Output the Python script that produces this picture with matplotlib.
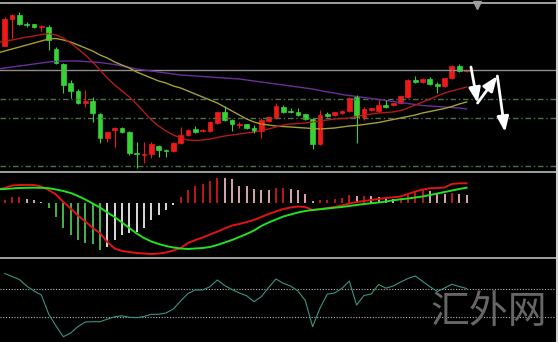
import numpy as np
import matplotlib
matplotlib.use("Agg")
import matplotlib.pyplot as plt
from matplotlib.lines import Line2D

# ── Colours ─────────────────────────────────────────────────────────────────
BG        = "#000000"
BULL      = "#ee1a1a"
BEAR      = "#36d236"
MA_FAST   = "#b31a1a"
MA_MID    = "#a5a032"
MA_SLOW   = "#6a2f9a"
LEVEL     = "#8c8c8c"
FIBO      = "#4f6f4f"
FRAME     = "#a0a0a0"
MACD_LINE = "#e01414"
SIG_LINE  = "#22e022"
H_UP      = "#cc1a1a"   # positive, rising
H_UP_FADE = "#e8b4bc"   # positive, falling
H_DN      = "#4cc44c"   # negative, falling
H_DN_FADE = "#ececec"   # negative, rising
OSC       = "#3a9484"

# ── Data (price axis runs downward, as on the terminal) ─────────────────────
open_ = [45.7, 18.5, 15, 24, 24.3, 27.3, 26.7, 49, 64, 83.3,
         90.7, 103.3, 100.7, 114, 137.7, 130, 128.3, 131.7, 152.7, 154.5,
         154, 145.7, 149.5, 150.7, 143.3, 135, 129.3, 131.3, 131.3, 122.7,
         111.7, 120, 124.5, 124.3, 128, 131, 120.7, 118.3, 106.7, 110.7,
         111.7, 114.3, 119, 144, 114, 115, 113.3, 111, 96.7, 117,
         110, 110.7, 105, 105.3, 103.3, 96.7, 80, 82, 78.7, 84,
         86, 78.3, 66, 71.3]
high = [17, 14, 11.7, 22, 24, 25, 25, 47, 63, 80,
        89, 90, 97.3, 113, 131.7, 127, 127, 131, 141.7, 141.7,
        141.7, 145, 148.7, 142, 126.7, 128.5, 126, 129, 121, 111,
        106, 119, 121.7, 123.5, 125, 118.3, 116.5, 103, 105, 108.3,
        108.3, 113.5, 118, 110, 111.7, 111.5, 110, 97, 95, 106.7,
        107.5, 100, 100, 102.5, 95, 79, 76, 78, 76.7, 81.7,
        77.5, 65.3, 64, 69.5]
low = [46, 38, 25, 27, 28, 30.5, 50, 64, 93, 98,
       104, 107, 121.7, 142.7, 141.7, 146.7, 132.5, 154.5, 168, 163.3,
       158.3, 156.7, 156.7, 152, 144, 136, 133.3, 132, 132, 123.5,
       121, 130.7, 128.3, 129, 132.7, 138.3, 121.5, 119, 112.5, 113.3,
       116, 119.8, 149.3, 145, 116.7, 116, 114, 111.7, 142.7, 120,
       111, 111.5, 108.3, 106, 104, 97.5, 83, 83, 85, 93.3,
       86.7, 79, 71.5, 72]
close = [19, 15, 24.3, 25, 27.3, 26, 40, 63.3, 85, 90.7,
         103.3, 100.7, 113.3, 137.7, 132.3, 128.3, 131.7, 153.3, 154.3, 153.5,
         144, 150, 150.5, 143.3, 135, 129.5, 132, 130, 122, 111.7,
         120, 124, 123.7, 128.3, 130.7, 120, 117.3, 106, 111.7, 112.3,
         115, 119, 144, 115, 115.7, 112.3, 110.7, 97.7, 116.7, 109.3,
         108.3, 105, 106.7, 103.3, 96, 80, 82.3, 78.7, 84.3, 85.7,
         78.3, 66, 70.7, 70]

# moving averages start one bar before the first visible candle
ma_fast = [42.5, 41, 40, 38.5, 37, 36, 34.5, 33.5, 35, 38,
           43, 49, 55, 62, 70, 78, 85, 91, 97, 104,
           112, 120, 126, 131, 135, 138, 140, 140.5, 140, 139,
           137.5, 136, 135, 134, 133, 132, 130.5, 129, 127, 125,
           124, 123.5, 123, 122, 121, 120, 119, 118.5, 118, 116.5,
           115, 114, 113, 112.5, 112, 110.5, 108, 105, 102, 99,
           96, 93, 91, 89, 87]
ma_mid = [53, 51, 49, 47, 45, 43, 41, 39, 38.5, 40,
          42, 45, 48, 51, 55, 58, 62, 65, 68, 72,
          75, 78, 81, 83, 86, 88, 91, 94, 97, 100,
          103, 107, 111, 115, 119, 122, 124, 125, 126, 126.5,
          127, 127.5, 128, 128.5, 129, 128.5, 128, 127, 126, 125.5,
          124.5, 123.5, 122.5, 121, 119.5, 118, 116.5, 115, 113, 111.5,
          110, 108.5, 106.5, 104, 102]
ma_slow = [69, 68, 67, 66, 65, 64, 63, 62, 61.5, 61,
           61, 61, 61.5, 62, 62.5, 63.5, 64.5, 66, 67.5, 69,
           70, 71, 72, 73, 74, 75, 75.5, 76, 76.5, 77,
           77.5, 78, 78.5, 79, 80, 81, 82, 83, 84, 85,
           86, 87, 88, 89, 90.5, 92, 93, 94.5, 95.5, 96.5,
           97.5, 98.5, 99.5, 100.5, 101.5, 102.5, 103.5, 104.5, 105.5, 106,
           106.5, 107, 107.5, 108, 109]

h_line = 70
fibo_levels = [99.3, 117.7, 166]

# trade path drawn as arrows: (bar, price) waypoints
path_bar = [63.6, 64.5, 67.2, 68.25]
path_price = [67, 103, 76, 132]

# MACD panel
MACD_ZERO = 203
macd_hist = [3, 6, 6.3, 4.3, 2.7, 1.3, -5.3, -13.7, -24.7, -32,
             -37, -40.3, -41.3, -47, -43.7, -37, -32, -30.3, -28.7, -24.7,
             -17, -12, -7, -1.5, 6, 12.7, 17, 19.3, 21.7, 25.3,
             25, 23.7, 17, 16.7, 13.7, 13.5, 12.7, 15, 15.3, 14.3,
             12.7, 9.3, 2.5, 2.8, 3.3, 4.3, 5, 8.3, 6.7, 6.9,
             6.7, 6, 5.3, 4.3, 5.3, 9.3, 11.7, 13.7, 11.7, 10.3,
             9.3, 10.3, 9.3, 7.7]
macd_main = [189.5, 188, 185.5, 185, 185, 185, 186.5, 190, 194.5, 202,
             208.5, 215.5, 221.5, 228, 233, 242, 248.5, 251, 252, 253,
             253.5, 254, 253.5, 252.5, 250.5, 248, 243, 240, 237.5, 234.5,
             231.7, 228.5, 225.5, 224, 222, 220, 217, 214, 211.5, 209,
             207.5, 206.5, 207, 210, 209, 208, 207, 205.5, 203.5, 202,
             201, 200, 199, 198, 197.3, 196.5, 194, 191.5, 189.5, 188.3,
             188, 187.5, 184, 183.3, 183.3]
macd_signal = [189.2, 189, 188.5, 188, 187.8, 187.7, 187.8, 188.2, 189.5, 191,
               193, 196, 199.5, 203.5, 207.5, 212.5, 217, 222.5, 228, 233.5,
               238, 241.5, 244, 246, 247.5, 248.5, 249, 248.5, 248, 247,
               245, 242.5, 240, 237, 234, 230.5, 226, 222.5, 219.5, 216.5,
               214.5, 212.5, 211, 210, 209.3, 208.5, 207.7, 207, 206, 205,
               204, 203.3, 202.5, 201.5, 200.3, 199.3, 198.5, 197.5, 196.5, 195,
               193.5, 192, 190.5, 189, 187.7]

# oscillator panel
osc = [273.5, 276.5, 279.5, 286, 291, 295, 314, 326, 336.7, 333,
       326.5, 322, 321.7, 321.7, 319.2, 316.7, 315.8, 317.3, 317.7, 316.5,
       314.3, 314.3, 313, 309, 301, 293.5, 290, 290, 286.7, 280,
       285.5, 289.5, 293, 295.7, 301.7, 296.7, 287.5, 279, 283.3, 286,
       291, 300.5, 326.7, 308.3, 294.2, 293, 288.4, 281, 305, 295.5,
       294, 284.5, 288.2, 286, 282, 278.5, 276, 281.3, 286.7, 291.5,
       288, 284.3, 286.5, 288.5]
osc_levels = [288.5, 317]

# ── Layout ──────────────────────────────────────────────────────────────────
W, H = 558, 342
fig = plt.figure(figsize=(W / 100, H / 100), dpi=100)
fig.patch.set_facecolor(BG)


def panel(top, bottom):
    ax = fig.add_axes([0, 1 - bottom / H, 556 / W, (bottom - top) / H])
    ax.set_facecolor(BG)
    ax.set_axis_off()
    ax.set_xlim(-0.64, 75.2)
    ax.set_ylim(bottom, top)
    return ax


ax_main = panel(3, 171)
ax_macd = panel(172, 257)
ax_osc = panel(257, 342)

bars = np.arange(len(close))
ma_bars = np.arange(-1, len(close))

# ── Price window ────────────────────────────────────────────────────────────
ax_main.axhline(h_line, color=LEVEL, lw=1)
for lvl in fibo_levels:
    ax_main.axhline(lvl, color=FIBO, lw=1, ls=(0, (4, 2, 1, 2)))

ax_main.plot(ma_bars, ma_slow, color=MA_SLOW, lw=1)
ax_main.plot(ma_bars, ma_mid, color=MA_MID, lw=1)
ax_main.plot(ma_bars, ma_fast, color=MA_FAST, lw=1)

o, c = np.array(open_), np.array(close)
cols = np.where(c < o, BULL, BEAR)
ax_main.vlines(bars, high, low, colors=cols, lw=0.8)
ax_main.bar(bars, c - o, bottom=o, width=0.66, color=cols,
            edgecolor=cols, lw=0.5)

for k in range(len(path_bar) - 1):
    ax_main.annotate("", xy=(path_bar[k + 1], path_price[k + 1]),
                     xytext=(path_bar[k], path_price[k]),
                     arrowprops=dict(arrowstyle="-|>,head_length=0.9,head_width=0.35",
                                     color="white", lw=2.0, shrinkA=0, shrinkB=0))

ax_main.plot(64.4, 4.5, marker="v", color="#9a9a9a", ms=6, clip_on=False)

# ── MACD window ─────────────────────────────────────────────────────────────
hist = np.array(macd_hist)
prev = np.concatenate([[hist[0] - 1], hist[:-1]])
rising = hist >= prev
hcols = np.where(hist >= 0,
                 np.where(rising, H_UP, H_UP_FADE),
                 np.where(rising, H_DN_FADE, H_DN))
ax_macd.vlines(bars, MACD_ZERO, MACD_ZERO - hist, colors=hcols, lw=1.3)
ax_macd.plot(ma_bars, macd_main, color=MACD_LINE, lw=1.4)
ax_macd.plot(ma_bars, macd_signal, color=SIG_LINE, lw=1.4)

# ── Oscillator window ───────────────────────────────────────────────────────
for lvl in osc_levels:
    ax_osc.axhline(lvl, color="#b8b8b8", lw=0.8, ls=(0, (1, 1.5)))
ax_osc.plot(bars, osc, color=OSC, lw=0.8)

# ── Frame lines ─────────────────────────────────────────────────────────────
for y in (2.5, 171.5, 257.5):
    fig.add_artist(Line2D([0, 1], [1 - y / H] * 2, transform=fig.transFigure,
                          color=FRAME, lw=1.4))
fig.add_artist(Line2D([557 / W] * 2, [0, 1], transform=fig.transFigure,
                      color="#d0d0d0", lw=1.5))

fig.text(430 / W, 1 - 312 / H, "汇外网", fontsize=28, color="#666666",
         weight="light", family=["Noto Sans CJK SC", "DejaVu Sans"],
         va="center", ha="left")

fig.savefig("out.png", dpi=100, facecolor=BG)
